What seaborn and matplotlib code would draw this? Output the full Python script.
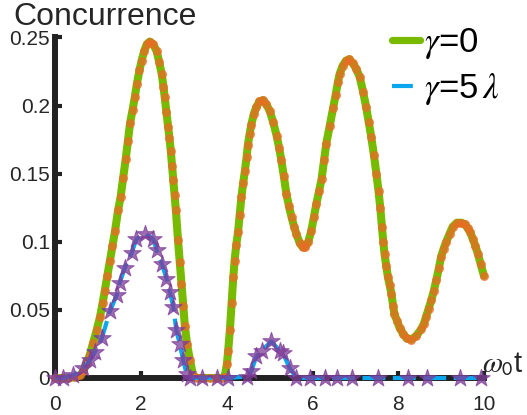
import pandas as pd
import matplotlib
matplotlib.use("Agg")
import matplotlib.pyplot as plt
import seaborn as sns
from matplotlib.lines import Line2D

# Concurrence vs w0 t
green_t = [0.00, 0.15, 0.30, 0.45, 0.57, 0.65, 0.73, 0.80, 0.88, 0.96, 1.04, 1.10, 1.15, 1.21,
           1.27, 1.33, 1.39, 1.46, 1.52, 1.58, 1.64, 1.69, 1.74, 1.80, 1.85, 1.90, 1.96, 2.01,
           2.07, 2.13, 2.20, 2.28, 2.36, 2.42, 2.48, 2.52, 2.55, 2.59, 2.63, 2.66, 2.69, 2.72,
           2.75, 2.78, 2.81, 2.86, 2.90, 2.94, 2.98, 3.02, 3.07, 3.14, 3.21, 3.30, 3.45, 3.60,
           3.75, 3.88, 3.95, 4.00, 4.03, 4.07, 4.11, 4.15, 4.18, 4.22, 4.26, 4.30, 4.34, 4.38,
           4.42, 4.46, 4.49, 4.53, 4.57, 4.63, 4.69, 4.76, 4.84, 4.92, 5.00, 5.08, 5.16, 5.22,
           5.27, 5.33, 5.39, 5.45, 5.51, 5.57, 5.62, 5.70, 5.77, 5.82, 5.90, 5.97, 6.03, 6.09,
           6.15, 6.21, 6.27, 6.32, 6.40, 6.48, 6.54, 6.59, 6.63, 6.70, 6.78, 6.86, 6.94, 7.02,
           7.10, 7.18, 7.25, 7.31, 7.37, 7.43, 7.49, 7.54, 7.58, 7.62, 7.65, 7.68, 7.72, 7.76,
           7.80, 7.84, 7.88, 7.91, 7.97, 8.03, 8.12, 8.20, 8.30, 8.42, 8.54, 8.60, 8.65, 8.71,
           8.77, 8.83, 8.89, 8.95, 9.00, 9.06, 9.12, 9.20, 9.27, 9.37, 9.47, 9.55, 9.62, 9.68,
           9.74, 9.80, 9.86, 9.92, 10.00]
green_c = [0.000, 0.000, 0.000, 0.0005, 0.002, 0.005, 0.011, 0.017, 0.026, 0.035, 0.045, 0.055,
           0.064, 0.075, 0.086, 0.097, 0.108, 0.123, 0.133, 0.147, 0.161, 0.174, 0.187, 0.197,
           0.206, 0.216, 0.226, 0.233, 0.240, 0.245, 0.247, 0.245, 0.240, 0.232, 0.223, 0.214,
           0.206, 0.195, 0.184, 0.176, 0.167, 0.156, 0.145, 0.134, 0.123, 0.101, 0.085, 0.069,
           0.053, 0.038, 0.025, 0.013, 0.002, 0.000, 0.000, 0.000, 0.000, 0.000, 0.001, 0.010,
           0.020, 0.035, 0.055, 0.074, 0.086, 0.098, 0.107, 0.120, 0.133, 0.143, 0.152, 0.162,
           0.171, 0.179, 0.186, 0.194, 0.199, 0.203, 0.204, 0.201, 0.196, 0.188, 0.178, 0.169,
           0.160, 0.148, 0.135, 0.126, 0.118, 0.111, 0.106, 0.099, 0.096, 0.096, 0.100, 0.108,
           0.118, 0.128, 0.137, 0.146, 0.160, 0.172, 0.185, 0.198, 0.208, 0.217, 0.223, 0.229,
           0.233, 0.234, 0.231, 0.227, 0.221, 0.210, 0.199, 0.188, 0.177, 0.164, 0.150, 0.137,
           0.125, 0.111, 0.100, 0.091, 0.082, 0.074, 0.068, 0.062, 0.053, 0.047, 0.042, 0.037,
           0.032, 0.029, 0.028, 0.031, 0.036, 0.040, 0.045, 0.051, 0.057, 0.064, 0.072, 0.081,
           0.089, 0.095, 0.100, 0.106, 0.111, 0.114, 0.114, 0.113, 0.110, 0.107, 0.102, 0.097,
           0.091, 0.084, 0.075]

blue_t = [0.00, 0.18, 0.41, 0.65, 0.80, 0.92, 1.08, 1.27, 1.43, 1.50, 1.62, 1.78, 1.89, 2.09,
          2.28, 2.36, 2.48, 2.59, 2.67, 2.75, 2.82, 2.90, 2.98, 3.06, 3.14, 3.41, 3.76, 4.03,
          4.46, 4.57, 4.69, 4.81, 5.04, 5.23, 5.31, 5.47, 5.62, 5.93, 6.28, 6.58, 6.91, 7.52,
          8.22, 8.66, 9.43, 9.94]
blue_c = [0.000, 0.000, 0.002, 0.007, 0.013, 0.019, 0.029, 0.049, 0.061, 0.070, 0.081, 0.092,
          0.102, 0.106, 0.102, 0.094, 0.084, 0.073, 0.063, 0.052, 0.035, 0.025, 0.013, 0.003,
          0.000, 0.000, 0.000, 0.000, 0.001, 0.005, 0.016, 0.020, 0.027, 0.020, 0.018, 0.007,
          0.000, 0.000, 0.000, 0.000, 0.000, 0.000, 0.000, 0.000, 0.000, 0.000]

labels = [r"$\gamma$=0", r"$\gamma$=5$\,\lambda$"]

green = "#77BA00"
orange = "#EB6A26"
blue = "#0AA6EE"
purple = "#7E3C98"
dark = "#262626"

df0 = pd.DataFrame({"t": green_t, "C": green_c})
df1 = pd.DataFrame({"t": blue_t, "C": blue_c})

sns.set_style("white")
plt.rcParams["font.family"] = ["Liberation Sans", "DejaVu Sans"]
plt.rcParams["mathtext.fontset"] = "stix"

fig = plt.figure(figsize=(5.27, 4.15), dpi=100)
ax = fig.add_axes([0.1053, 0.0892, 0.813, 0.8205])

sns.lineplot(data=df0, x="t", y="C", color=green, lw=5.8, estimator=None, sort=False,
             ax=ax, clip_on=False, zorder=4)
sns.scatterplot(data=df0, x="t", y="C", color=orange, s=42, alpha=0.75, linewidth=0,
                ax=ax, clip_on=False, zorder=5)
sns.lineplot(data=df1, x="t", y="C", color=blue, lw=3.0, estimator=None, sort=False,
             ax=ax, clip_on=False, zorder=6, dashes=False)
ax.lines[-1].set_dashes((5.5, 1.8))
sns.scatterplot(data=df1, x="t", y="C", marker="*", s=170, color=purple, alpha=0.75,
                edgecolor=purple, linewidth=0.8, ax=ax, clip_on=False, zorder=7)

ax.set_xlim(0, 10)
ax.set_ylim(0, 0.25)
ax.set_xticks([0, 2, 4, 6, 8, 10])
ax.set_yticks([0, 0.05, 0.1, 0.15, 0.2, 0.25])
ax.set_yticklabels(["0", "0.05", "0.1", "0.15", "0.2", "0.25"])
ax.set_xlabel("")
ax.set_ylabel("")

for side in ["top", "right"]:
    ax.spines[side].set_visible(False)
for side in ["left", "bottom"]:
    ax.spines[side].set_linewidth(4.3)
    ax.spines[side].set_color("#222222")
    ax.spines[side].set_capstyle("projecting")
    ax.spines[side].set_zorder(3)

ax.tick_params(bottom=True, left=True, direction="in", length=5, width=3, color="#222222",
               labelsize=15, labelcolor=dark, pad=4)
ax.tick_params(axis="x", pad=12)

fig.text(13 / 527, 1 - 25 / 415, "Concurrence", fontsize=23, color=dark,
         ha="left", va="baseline")
ax.text(0.995, 0.0, r"$\omega_\mathsf{0}$t", transform=ax.transAxes, fontsize=21,
        color=dark, ha="left", va="bottom")

handles = [Line2D([], [], color=green, lw=5.2),
           Line2D([], [], color=blue, lw=3.0, dashes=(5, 1.8))]
ax.legend(handles, labels, loc="upper left", bbox_to_anchor=(392 / 527, 1 - 26 / 415),
          bbox_transform=fig.transFigure, frameon=False, fontsize=25,
          handlelength=0.8, handletextpad=0.12, labelspacing=0.3,
          borderpad=0, borderaxespad=0, labelcolor="black")

fig.savefig("out.png", dpi=100)
